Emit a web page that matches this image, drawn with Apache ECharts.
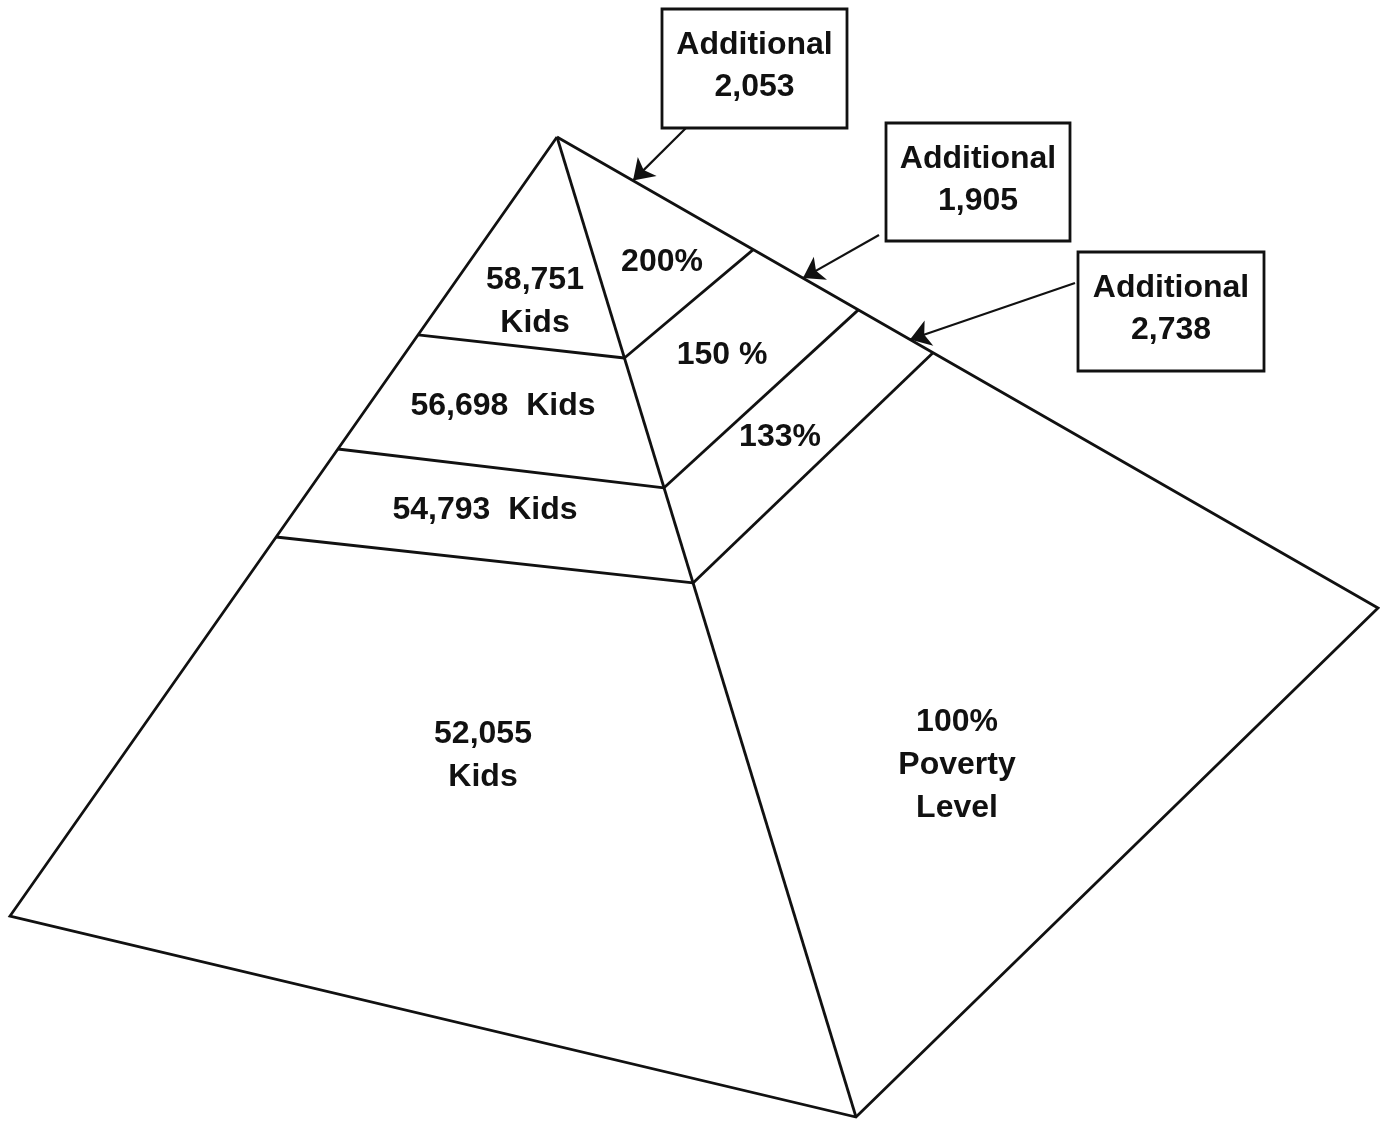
<!DOCTYPE html>
<html>
<head>
<meta charset="utf-8">
<style>
  html, body { margin: 0; padding: 0; background: #fff; }
  #chart { width: 1380px; height: 1123px; }
</style>
<script src="https://cdn.jsdelivr.net/npm/echarts@6/dist/echarts.min.js"></script>
</head>
<body>
<div id="chart"></div>
<script>
// values
const kidCounts = ['58,751', '56,698', '54,793', '52,055'];
const povertyLevels = ['200%', '150 %', '133%', '100%'];
const additionalKids = ['2,053', '1,905', '2,738'];

// pyramid corners in a 1380 x 1123 drawing space
const apex = [557, 137];
const leftCorner = [10, 916];
const frontCorner = [856, 1117];
const rightCorner = [1378, 608];

// where each band boundary cuts an edge (fraction of the edge, from the apex)
const leftCuts = [0.254, 0.4005, 0.5135];
const frontCuts = [0.2255, 0.358, 0.455];
const rightCuts = [0.239, 0.367, 0.458];
// where the callout arrows touch the right edge
const arrowCuts = [0.0926, 0.2996, 0.43];

// label placement
const kidLabelPos = [[535, 302], [503, 406], [485, 510], [483, 756]];
const levelLabelPos = [[662, 262], [722, 355], [780, 437], [957, 765]];
const boxRects = [[662, 9, 185, 119], [886, 123, 184, 118], [1078, 252, 186, 119]];
const arrowFrom = [[690, 124], [879, 235], [1075, 283]];

const FONT = 'bold 32px "Liberation Sans", Arial, sans-serif';
const INK = '#111';

function along(a, b, t) {
  return [a[0] + (b[0] - a[0]) * t, a[1] + (b[1] - a[1]) * t];
}

// pyramid line work
const outline = [{ coords: [apex, leftCorner, frontCorner, rightCorner, apex] }];
const segments = [{ coords: [apex, frontCorner] }];
for (let i = 0; i < leftCuts.length; i++) {
  const l = along(apex, leftCorner, leftCuts[i]);
  const f = along(apex, frontCorner, frontCuts[i]);
  const r = along(apex, rightCorner, rightCuts[i]);
  segments.push({ coords: [l, f] });
  segments.push({ coords: [f, r] });
}
const arrows = arrowFrom.map((p, i) => ({ coords: [p, along(apex, rightCorner, arrowCuts[i])] }));

// text labels
const labels = [];
kidCounts.forEach((k, i) => {
  const text = (i === 0 || i === 3) ? k + '\nKids' : k + '  Kids';
  labels.push([kidLabelPos[i][0], kidLabelPos[i][1], text]);
});
povertyLevels.forEach((p, i) => {
  const text = i === 3 ? p + '\nPoverty\nLevel' : p;
  labels.push([levelLabelPos[i][0], levelLabelPos[i][1], text]);
});

const boxes = additionalKids.map((a, i) => [...boxRects[i], 'Additional\n' + a]);

const chart = echarts.init(document.getElementById('chart'));

chart.setOption({
  animation: false,
  backgroundColor: '#fff',
  grid: { left: 0, right: 0, top: 0, bottom: 0 },
  xAxis: { type: 'value', min: 0, max: 1380, show: false },
  yAxis: { type: 'value', min: 0, max: 1123, inverse: true, show: false },
  series: [
    {
      type: 'lines',
      coordinateSystem: 'cartesian2d',
      polyline: true,
      data: outline,
      symbol: 'none',
      lineStyle: { color: INK, width: 2.8, opacity: 1, join: 'miter' }
    },
    {
      type: 'lines',
      coordinateSystem: 'cartesian2d',
      data: segments,
      symbol: 'none',
      lineStyle: { color: INK, width: 2.8, opacity: 1 }
    },
    {
      type: 'lines',
      coordinateSystem: 'cartesian2d',
      data: arrows,
      symbol: ['none', 'arrow'],
      symbolSize: 20,
      lineStyle: { color: INK, width: 2.2, opacity: 1 }
    },
    {
      type: 'custom',
      coordinateSystem: 'cartesian2d',
      data: boxes,
      renderItem: (params, api) => {
        const p0 = api.coord([api.value(0), api.value(1)]);
        const p1 = api.coord([api.value(0) + api.value(2), api.value(1) + api.value(3)]);
        const d = boxes[params.dataIndex];
        return {
          type: 'group',
          children: [
            {
              type: 'rect',
              shape: { x: p0[0], y: p0[1], width: p1[0] - p0[0], height: p1[1] - p0[1] },
              style: { fill: '#fff', stroke: INK, lineWidth: 2.8 }
            },
            {
              type: 'text',
              x: (p0[0] + p1[0]) / 2,
              y: (p0[1] + p1[1]) / 2 - 2,
              style: {
                text: d[4], font: FONT, fill: INK,
                align: 'center', verticalAlign: 'middle', lineHeight: 42
              }
            }
          ]
        };
      }
    },
    {
      type: 'custom',
      coordinateSystem: 'cartesian2d',
      data: labels,
      renderItem: (params, api) => {
        const p = api.coord([api.value(0), api.value(1)]);
        return {
          type: 'text',
          x: p[0],
          y: p[1],
          style: {
            text: labels[params.dataIndex][2], font: FONT, fill: INK,
            align: 'center', verticalAlign: 'middle', lineHeight: 43
          }
        };
      }
    }
  ]
});
</script>
</body>
</html>
